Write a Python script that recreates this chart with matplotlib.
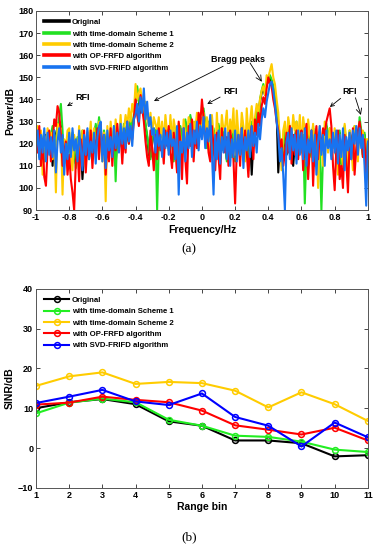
import matplotlib
matplotlib.use("Agg")
import matplotlib.pyplot as plt
import numpy as np

plt.rcParams['font.family'] = ['Liberation Sans', 'DejaVu Sans']
plt.rcParams['font.weight'] = 'bold'
plt.rcParams['axes.labelweight'] = 'bold'

# ---- (a) spectrum, values every 0.01 Hz ----
freq = np.round(np.linspace(-1.0, 1.0, 201), 2)

spec_original = [
    120, 125, 115, 124, 118, 113, 124, 116, 122, 124, 110, 126, 121, 128, 130, 128, 122, 112, 120, 117,
    123, 115, 124, 118, 111, 122, 113, 120, 104, 116, 119, 125, 114, 126, 121, 117, 128, 123, 126, 124,
    114, 125, 117, 118, 123, 120, 118, 126, 110, 124, 120, 126, 117, 128, 123, 125, 121, 130, 125, 132,
    138, 144, 139, 134, 139, 135, 128, 123, 115, 114, 120, 126, 122, 119, 121, 123, 126, 119, 122, 126,
    118, 129, 121, 113, 125, 118, 116, 127, 120, 118, 130, 123, 121, 132, 125, 123, 129, 119, 126, 132,
    125, 134, 128, 119, 128, 121, 115, 126, 119, 117, 128, 122, 118, 127, 120, 113, 126, 118, 115, 128,
    113, 126, 120, 115, 128, 117, 117, 125, 110, 123, 106, 121, 125, 135, 130, 139, 143, 145, 142, 147,
    148, 150, 148, 145, 141, 135, 107, 121, 113, 117, 125, 115, 121, 127, 117, 110, 121, 128, 119, 125,
    119, 123, 114, 117, 125, 115, 121, 127, 111, 119, 123, 118, 118, 115, 123, 128, 120, 126, 116, 121,
    123, 113, 121, 125, 111, 121, 127, 117, 115, 125, 122, 116, 127, 125, 117, 129, 125, 115, 124, 117,
    120]
spec_scheme1 = [
    119, 126, 114, 125, 119, 112, 123, 117, 121, 124, 128, 118, 122, 127, 132, 138, 126, 111, 120, 118,
    122, 114, 125, 119, 109, 123, 112, 120, 126, 115, 118, 124, 113, 127, 120, 116, 129, 124, 132, 125,
    113, 126, 118, 116, 124, 121, 119, 128, 103, 125, 121, 127, 118, 129, 124, 126, 120, 131, 126, 133,
    139, 146, 140, 135, 140, 136, 129, 124, 117, 113, 121, 127, 126, 90, 120, 124, 127, 118, 122, 126,
    117, 130, 122, 112, 126, 119, 115, 128, 121, 119, 131, 124, 120, 133, 126, 124, 130, 118, 127, 131,
    124, 136, 129, 118, 130, 122, 114, 127, 120, 116, 129, 123, 117, 128, 121, 112, 127, 119, 114, 129,
    112, 127, 121, 114, 129, 118, 116, 126, 108, 124, 130, 120, 126, 136, 131, 140, 144, 147, 143, 148,
    149, 151, 149, 146, 142, 136, 130, 122, 112, 118, 126, 116, 122, 128, 116, 124, 120, 130, 118, 126,
    118, 124, 93, 118, 126, 114, 122, 128, 110, 120, 124, 117, 90, 116, 124, 129, 121, 127, 117, 122,
    124, 112, 120, 126, 110, 122, 128, 118, 114, 126, 121, 115, 128, 124, 118, 132, 126, 114, 125, 116,
    121]
spec_scheme2 = [
    120, 128, 116, 126, 106, 124, 118, 127, 121, 125, 113, 124, 98, 129, 122, 127, 97, 122, 118, 126,
    127, 116, 108, 124, 119, 114, 128, 112, 126, 117, 110, 126, 120, 130, 115, 127, 118, 124, 130, 121,
    112, 125, 94, 128, 116, 130, 121, 118, 131, 124, 122, 133, 119, 126, 133, 128, 136, 130, 138, 134,
    147, 140, 143, 145, 138, 134, 139, 131, 128, 134, 124, 132, 129, 126, 132, 122, 130, 120, 133, 125,
    118, 133, 120, 131, 126, 108, 129, 122, 116, 131, 124, 122, 132, 127, 119, 130, 126, 134, 125, 132,
    126, 134, 121, 132, 127, 116, 133, 124, 112, 134, 120, 118, 133, 126, 128, 135, 119, 131, 125, 136,
    115, 135, 124, 120, 134, 128, 112, 136, 124, 130, 137, 126, 132, 138, 134, 140, 144, 146, 142, 151,
    150, 153, 156, 150, 147, 140, 134, 120, 108, 126, 130, 118, 132, 127, 122, 133, 126, 130, 122, 133,
    116, 132, 126, 112, 131, 124, 120, 129, 114, 122, 100, 128, 119, 110, 130, 124, 116, 127, 122, 118,
    127, 119, 106, 124, 116, 110, 129, 121, 102, 126, 118, 108, 128, 123, 112, 128, 120, 126, 115, 122,
    122]
spec_opfrfd = [
    124, 116, 128, 110, 122, 105, 101, 118, 126, 112, 120, 131, 128, 137, 134, 124, 110, 116, 121, 106,
    115, 104, 98, 90, 112, 118, 103, 122, 110, 126, 107, 120, 114, 126, 109, 122, 117, 127, 113, 129,
    115, 124, 106, 121, 112, 127, 110, 123, 117, 129, 118, 125, 111, 124, 116, 130, 120, 127, 122, 131,
    140, 133, 128, 142, 136, 130, 121, 114, 110, 126, 118, 108, 124, 113, 127, 117, 121, 111, 126, 119,
    128, 116, 109, 125, 118, 107, 130, 121, 104, 127, 113, 102, 128, 119, 131, 112, 126, 118, 134, 129,
    140, 132, 120, 126, 116, 112, 128, 119, 108, 125, 114, 104, 127, 118, 116, 123, 110, 126, 121, 113,
    93, 117, 124, 110, 127, 114, 126, 116, 105, 121, 128, 113, 131, 124, 134, 128, 137, 141, 138, 145,
    150, 147, 146, 140, 136, 130, 126, 118, 122, 110, 116, 125, 116, 128, 111, 124, 115, 126, 113, 122,
    126, 108, 122, 129, 104, 118, 126, 101, 121, 128, 113, 124, 118, 127, 124, 130, 133, 136, 128, 110,
    99, 118, 126, 104, 110, 100, 124, 112, 98, 121, 113, 127, 106, 118, 126, 130, 124, 114, 122, 104,
    120]
spec_svdfrifd = [
    118, 126, 113, 124, 116, 127, 112, 125, 115, 123, 114, 126, 107, 121, 127, 116, 124, 106, 120, 113,
    125, 114, 127, 117, 122, 112, 126, 118, 108, 124, 115, 127, 113, 121, 116, 125, 111, 123, 128, 130,
    112, 124, 109, 126, 117, 123, 114, 128, 118, 125, 116, 129, 120, 127, 118, 130, 121, 128, 119, 131,
    133, 138, 130, 141, 134, 145, 131, 139, 128, 132, 124, 127, 116, 126, 119, 124, 114, 127, 118, 125,
    115, 126, 119, 122, 113, 128, 97, 121, 116, 127, 112, 125, 118, 129, 114, 126, 120, 130, 117, 128,
    122, 132, 118, 127, 121, 133, 116, 97, 124, 113, 126, 111, 123, 116, 127, 113, 125, 110, 122, 114,
    126, 112, 124, 115, 127, 109, 123, 117, 126, 114, 128, 119, 125, 116, 129, 122, 131, 136, 132, 139,
    143, 147, 148, 144, 138, 130, 124, 112, 118, 106, 90, 121, 125, 113, 127, 117, 124, 111, 126, 115,
    125, 113, 127, 110, 122, 116, 126, 112, 124, 106, 121, 128, 115, 124, 110, 126, 118, 122, 113, 125,
    116, 126, 111, 124, 114, 127, 108, 123, 117, 125, 113, 126, 120, 128, 115, 127, 118, 124, 110, 92,
    121]

# ---- (b) SINR per range bin ----
range_bin = list(range(1, 12))
sinr_original = [10.0, 11.5, 12.3, 11.0, 6.7, 5.6, 1.9, 1.9, 1.2, -2.1, -1.8]
sinr_scheme1 = [8.7, 11.4, 12.4, 11.5, 7.1, 5.6, 3.1, 2.8, 1.6, -0.4, -1.0]
sinr_scheme2 = [15.6, 18.0, 19.0, 16.1, 16.6, 16.3, 14.4, 10.2, 14.0, 11.0, 6.8]
sinr_opfrfd = [10.9, 11.4, 12.9, 12.1, 11.5, 9.4, 5.7, 4.6, 3.4, 5.1, 1.9]
sinr_svdfrifd = [11.3, 12.9, 14.6, 11.7, 10.8, 13.7, 7.8, 5.6, 0.4, 6.4, 2.7]

labels = ['Original', 'with time-domain Scheme 1', 'with time-domain Scheme 2',
          'with OP-FRFD algorithm', 'with SVD-FRIFD algorithm']
colors_a = ['#000000', '#22e022', '#ffcc00', '#ff0000', '#1873f0']
colors_b = ['#000000', '#22ee22', '#ffcc00', '#ff0000', '#0000ff']

TICK_FS = 6.5
LABEL_FS = 7.5
LEG_FS = 5.6


def style_axes(ax):
    ax.tick_params(direction='in', top=True, right=True, labelsize=TICK_FS,
                   length=3, width=0.6, colors='#262626', pad=2)
    for sp in ax.spines.values():
        sp.set_linewidth(0.7)
        sp.set_color('#555555')
    for lab in ax.get_xticklabels() + ax.get_yticklabels():
        lab.set_fontweight('bold')
        lab.set_color('black')


fig = plt.figure(figsize=(3.78, 5.50), dpi=100)
ax1 = fig.add_axes([0.0952, 0.618, 0.878, 0.362])
ax2 = fig.add_axes([0.0952, 0.113, 0.878, 0.362])

# top panel
for ys, c, lab in zip([spec_original, spec_scheme1, spec_scheme2, spec_opfrfd, spec_svdfrifd],
                      colors_a, labels):
    ax1.plot(freq, ys, color=c, lw=1.5, label=lab)
ax1.set_xlim(-1, 1)
ax1.set_ylim(90, 180)
ax1.set_xticks(np.round(np.arange(-1, 1.01, 0.2), 1))
ax1.set_xticklabels(['-1', '-0.8', '-0.6', '-0.4', '-0.2', '0', '0.2', '0.4', '0.6', '0.8', '1'])
ax1.set_yticks(range(90, 181, 10))
ax1.set_xlabel('Frequency/Hz', fontsize=LABEL_FS, labelpad=2)
ax1.set_ylabel('Power/dB', fontsize=LABEL_FS, labelpad=2)
style_axes(ax1)
leg = ax1.legend(loc='upper left', fontsize=LEG_FS, frameon=False, handlelength=3.3,
                 handletextpad=0.3, labelspacing=0.5, borderaxespad=0.6)
for line in leg.get_lines():
    line.set_linewidth(2.6)

arrow = dict(arrowstyle='->', color='black', lw=0.6, shrinkA=0, shrinkB=0)
ann_fs = 6.5
ax1.annotate('RFI', xy=(-0.813, 137), xytext=(-0.72, 141), fontsize=ann_fs,
             fontweight='bold', ha='center', va='center', arrowprops=arrow)
ax1.annotate('RFI', xy=(0.032, 138), xytext=(0.17, 143.5), fontsize=ann_fs,
             fontweight='bold', ha='center', va='center', arrowprops=arrow)
ax1.annotate('Bragg peaks', xy=(-0.289, 139.3), xytext=(0.215, 158.3), fontsize=ann_fs,
             fontweight='bold', ha='center', va='center', arrowprops=arrow)
ax1.annotate('', xy=(0.361, 148), xytext=(0.29, 156.5), arrowprops=arrow)
ax1.annotate('RFI', xy=(0.771, 136.6), xytext=(0.89, 143.8), fontsize=ann_fs,
             fontweight='bold', ha='center', va='center', arrowprops=arrow)
ax1.annotate('', xy=(0.958, 133), xytext=(0.925, 140.8), arrowprops=arrow)

fig.text(0.5, 1 - 249 / 550, '(a)', ha='center', va='center', fontsize=9.5,
         family='Liberation Serif', fontweight='normal')

# bottom panel
for ys, c, lab in zip([sinr_original, sinr_scheme1, sinr_scheme2, sinr_opfrfd, sinr_svdfrifd],
                      colors_b, labels):
    ax2.plot(range_bin, ys, color=c, lw=1.5, marker='o', ms=4.2, mfc='none',
             mec=c, mew=1.1, label=lab)
ax2.set_xlim(1, 11)
ax2.set_ylim(-10, 40)
ax2.set_xticks(range_bin)
ax2.set_yticks(range(-10, 41, 10))
ax2.set_xlabel('Range bin', fontsize=LABEL_FS, labelpad=2)
ax2.set_ylabel('SINR/dB', fontsize=LABEL_FS, labelpad=2)
style_axes(ax2)
ax2.legend(loc='upper left', fontsize=LEG_FS, frameon=False, handlelength=3.3,
           handletextpad=0.3, labelspacing=0.5, borderaxespad=0.6)

fig.text(0.5, 1 - 537 / 550, '(b)', ha='center', va='center', fontsize=9.5,
         family='Liberation Serif', fontweight='normal')

fig.savefig('out.png', dpi=100)
